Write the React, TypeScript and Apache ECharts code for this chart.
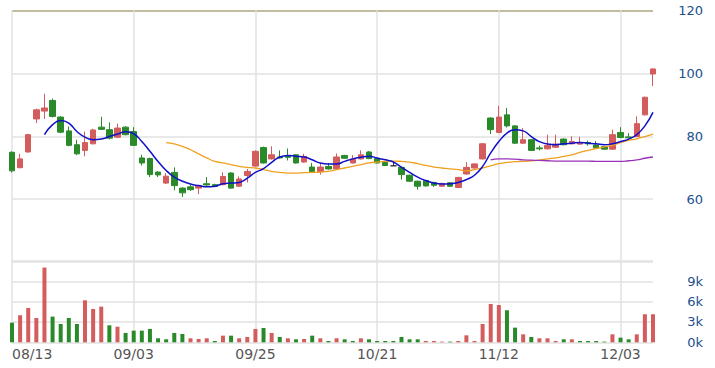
import React, { useEffect, useRef } from "react";
import * as echarts from "echarts";

const dates = [
  "08/13","08/14","08/15","08/16","08/19","08/20","08/21","08/22","08/23","08/26","08/27","08/28","08/29","08/30","09/02",
  "09/03","09/04","09/05","09/06","09/09","09/10","09/11","09/12","09/13","09/17","09/18","09/19","09/20","09/23","09/24",
  "09/25","09/26","09/27","09/30","10/02","10/04","10/07","10/08","10/10","10/11","10/14","10/15","10/16","10/17","10/18",
  "10/21","10/22","10/23","10/24","10/25","10/28","10/29","10/30","10/31","11/04","11/05","11/06","11/07","11/08","11/11",
  "11/12","11/13","11/14","11/15","11/18","11/19","11/20","11/21","11/22","11/25","11/26","11/27","11/28","11/29","12/02",
  "12/03","12/04","12/05","12/06","12/09",
];

// [open, close, low, high]
const ohlc: number[][] = [
  [74.9, 69.0, 68.5, 75.2],
  [70.0, 72.8, 69.8, 74.4],
  [75.0, 80.5, 74.8, 80.8],
  [85.5, 88.4, 84.2, 88.8],
  [88.0, 89.0, 85.5, 93.5],
  [91.4, 86.3, 86.0, 92.0],
  [86.1, 81.3, 81.0, 86.4],
  [81.7, 77.1, 76.8, 83.1],
  [77.3, 74.4, 74.0, 78.9],
  [75.5, 78.0, 73.6, 81.5],
  [77.6, 82.0, 77.4, 82.4],
  [82.9, 82.2, 82.0, 86.2],
  [82.1, 79.4, 79.0, 84.4],
  [79.7, 82.6, 79.5, 84.0],
  [82.9, 80.5, 80.3, 83.2],
  [81.5, 77.1, 76.9, 82.9],
  [73.1, 71.5, 70.7, 74.1],
  [72.9, 67.8, 67.0, 73.2],
  [68.6, 67.7, 67.0, 68.9],
  [65.1, 67.3, 64.8, 68.3],
  [68.5, 64.3, 62.8, 70.1],
  [63.5, 62.0, 60.7, 63.8],
  [63.9, 63.0, 62.6, 64.5],
  [63.5, 64.3, 61.6, 64.5],
  [64.9, 64.5, 64.2, 67.0],
  [64.6, 64.0, 63.8, 64.9],
  [64.6, 67.2, 64.4, 68.5],
  [68.3, 63.5, 63.3, 68.6],
  [64.1, 66.4, 63.9, 67.2],
  [67.5, 68.8, 65.3, 69.6],
  [70.5, 75.2, 70.3, 75.5],
  [76.4, 71.5, 71.3, 76.7],
  [72.8, 74.1, 72.6, 76.8],
  [73.4, 73.1, 72.9, 75.5],
  [73.6, 73.3, 72.3, 76.1],
  [74.1, 71.5, 71.3, 74.3],
  [71.8, 73.6, 71.6, 74.4],
  [70.2, 68.8, 68.6, 71.5],
  [68.8, 70.2, 67.8, 71.5],
  [70.4, 69.6, 69.4, 71.5],
  [69.6, 73.4, 69.4, 74.5],
  [73.9, 73.0, 72.8, 74.1],
  [71.5, 72.8, 71.3, 74.0],
  [72.8, 74.1, 72.6, 75.5],
  [75.0, 72.9, 72.7, 75.3],
  [72.9, 71.5, 71.3, 73.1],
  [71.7, 70.7, 70.5, 71.9],
  [70.6, 70.6, 70.6, 71.8],
  [70.1, 67.8, 66.2, 70.3],
  [67.6, 65.7, 65.5, 67.8],
  [65.7, 64.1, 63.0, 65.9],
  [65.9, 64.2, 64.0, 66.1],
  [65.3, 64.4, 63.9, 65.5],
  [64.1, 65.0, 63.9, 65.2],
  [65.2, 64.1, 63.9, 65.4],
  [63.7, 66.9, 63.5, 67.1],
  [68.0, 70.1, 67.8, 71.8],
  [69.9, 71.2, 69.7, 71.4],
  [72.8, 77.6, 72.6, 77.8],
  [85.8, 82.1, 80.7, 86.0],
  [81.2, 86.1, 81.0, 89.7],
  [86.8, 83.3, 82.8, 89.0],
  [83.3, 77.8, 77.6, 83.5],
  [77.8, 78.9, 77.6, 82.6],
  [78.9, 75.5, 75.3, 79.1],
  [76.3, 76.0, 75.5, 77.0],
  [76.0, 77.1, 75.8, 80.5],
  [76.5, 77.5, 76.3, 80.5],
  [79.1, 77.3, 77.1, 79.3],
  [77.6, 78.3, 77.4, 80.0],
  [77.5, 78.0, 77.3, 79.8],
  [78.0, 77.6, 77.0, 78.6],
  [77.2, 76.3, 76.1, 78.5],
  [76.7, 75.9, 75.7, 76.9],
  [75.9, 80.5, 75.7, 82.1],
  [81.2, 79.6, 79.4, 82.9],
  [79.8, 79.5, 79.3, 81.0],
  [79.9, 84.0, 79.7, 86.3],
  [86.8, 92.4, 86.6, 92.6],
  [99.8, 101.4, 96.0, 101.6],
];

const volumes = [
  2900, 3990, 5070, 3590, 11030, 3790, 2700, 3590, 2700, 6200,
  4920, 5260, 2510, 2300, 1380, 1720, 1720, 1970, 590, 440,
  1380, 1230, 590, 490, 590, 190, 980, 980, 590, 790,
  1970, 2110, 1380, 790, 590, 440, 490, 980, 590, 190,
  590, 440, 190, 590, 440, 190, 190, 190, 790, 440,
  440, 190, 190, 100, 100, 190, 1030, 190, 2700, 5660,
  5510, 4730, 2160, 1180, 790, 590, 590, 190, 440, 440,
  190, 190, 190, 100, 1180, 690, 440, 1180, 4140, 4140,
];

// moving averages (first value index noted)
const ma5Start = 4;
const ma5 = [
  80.5, 83.7, 85.0, 84.2, 81.5, 79.7, 78.9, 79.1, 79.9, 80.7,
  81.4, 80.8, 78.3, 75.2, 72.0, 69.1, 67.0, 65.7, 64.8, 64.3,
  63.9, 64.1, 64.9, 65.1, 65.3, 66.7, 68.5, 69.7, 71.7, 73.4,
  73.9, 73.6, 73.4, 72.5, 71.5, 71.2, 71.2, 72.0, 72.8, 73.3,
  73.6, 73.1, 72.5, 71.8, 70.1, 68.5, 67.0, 65.9, 65.1, 64.8,
  64.9, 65.3, 66.2, 67.6, 70.4, 74.7, 78.3, 81.0, 82.1, 81.7,
  79.9, 78.3, 77.5, 77.3, 77.6, 77.8, 78.0, 77.8, 77.6, 77.3,
  77.6, 78.3, 79.1, 80.5, 83.3, 87.6,
];
const ma20Start = 19;
const ma20 = [
  78.0, 77.6, 76.8, 75.7, 74.4, 73.1, 72.0, 71.5, 71.0, 70.4,
  70.1, 69.9, 69.4, 68.8, 68.5, 68.3, 68.3, 68.4, 68.5, 68.6,
  68.8, 69.4, 69.9, 70.4, 71.0, 71.5, 71.8, 72.0, 72.1, 72.0,
  71.8, 71.3, 70.7, 70.2, 69.9, 69.6, 69.4, 69.0, 69.4, 69.9,
  70.6, 71.3, 71.7, 71.9, 72.0, 72.2, 72.4, 72.8, 73.1, 73.6,
  74.1, 74.9, 75.5, 76.1, 76.6, 77.1, 78.0, 78.7, 79.2, 79.9,
  80.7,
];
const ma60Start = 59;
const ma60 = [
  72.5, 72.8, 72.8, 72.7, 72.5, 72.4, 72.3, 72.2, 72.1, 72.1,
  72.1, 72.1, 72.1, 72.0, 72.0, 72.0, 72.0, 72.2, 72.5, 73.0,
  73.4,
];

const priceTicks = [40, 60, 80, 100, 120];
const volumeTicks = [0, 3000, 6000, 9000, 12000];

const RED = "#d35c5c";
const GREEN = "#2a8a2a";

function pad(start: number, arr: number[]) {
  const out: (number | string)[] = [];
  for (let i = 0; i < start; i++) out.push("-");
  return out.concat(arr);
}

export default function App() {
  const ref = useRef<HTMLDivElement>(null);
  useEffect(() => {
    if (!ref.current) return;
    const chart = echarts.init(ref.current, undefined, { renderer: "svg" });
    const closes = ohlc.map((d) => d[1]);
    const volData = volumes.map((v, i) => {
      const up = i === 0 ? ohlc[0][1] >= ohlc[0][0] : closes[i] > closes[i - 1];
      return { value: v, itemStyle: { color: up ? RED : GREEN } };
    });
    const font = "DejaVu Sans";
    chart.setOption({
      animation: false,
      backgroundColor: "#fff",
      grid: [
        { left: 12, right: 62, top: 10.5, height: 251.5 },
        { left: 12, right: 62, top: 261, height: 81.3 },
      ],
      xAxis: [
        {
          type: "category",
          gridIndex: 0,
          data: dates,
          boundaryGap: false,
          axisLine: { show: false },
          axisTick: { show: false },
          axisLabel: { show: false },
          splitLine: { show: true, interval: 14, lineStyle: { color: "#e2e2e2", width: 1.5 } },
        },
        {
          type: "category",
          gridIndex: 1,
          data: dates,
          boundaryGap: false,
          axisLine: { show: false },
          axisTick: { show: false },
          axisLabel: {
            interval: 14,
            color: "#555",
            fontFamily: font,
            fontSize: 14,
            margin: 5,
            alignMinLabel: "left",
          },
          splitLine: { show: true, interval: 14, lineStyle: { color: "#e2e2e2", width: 1.5 } },
        },
      ],
      yAxis: [
        {
          type: "value",
          gridIndex: 0,
          position: "right",
          min: priceTicks[0],
          max: priceTicks[priceTicks.length - 1],
          interval: 20,
          axisLine: { show: false },
          axisTick: { show: false },
          axisLabel: {
            color: "#23508c",
            fontFamily: font,
            fontSize: 13,
            align: "right",
            margin: 50,
            formatter: (v: number) => (v === priceTicks[0] ? "" : String(v)),
          },
          splitLine: {
            lineStyle: { color: ["#e2e2e2", "#e2e2e2", "#e2e2e2", "#e2e2e2", "#aca67c"], width: 1.5 },
          },
        },
        {
          type: "value",
          gridIndex: 1,
          position: "right",
          min: volumeTicks[0],
          max: volumeTicks[volumeTicks.length - 1],
          interval: 3000,
          axisLine: { show: false },
          axisTick: { show: false },
          axisLabel: {
            color: "#23508c",
            fontFamily: font,
            fontSize: 13,
            align: "right",
            margin: 50,
            formatter: (v: number) => (v === volumeTicks[volumeTicks.length - 1] ? "" : v / 1000 + "k"),
          },
          splitLine: { lineStyle: { color: "#e2e2e2", width: 1.5 } },
        },
      ],
      series: [
        {
          type: "candlestick",
          xAxisIndex: 0,
          yAxisIndex: 0,
          data: ohlc,
          barWidth: 6,
          clip: false,
          itemStyle: {
            color: RED,
            color0: GREEN,
            borderColor: RED,
            borderColor0: GREEN,
            borderColorDoji: "#333",
            borderWidth: 1,
          },
        },
        {
          type: "line",
          xAxisIndex: 0,
          yAxisIndex: 0,
          data: pad(ma20Start, ma20),
          smooth: true,
          symbol: "none",
          lineStyle: { color: "#f0a020", width: 1.3 },
        },
        {
          type: "line",
          xAxisIndex: 0,
          yAxisIndex: 0,
          data: pad(ma60Start, ma60),
          smooth: true,
          symbol: "none",
          lineStyle: { color: "#9932b8", width: 1.3 },
        },
        {
          type: "line",
          xAxisIndex: 0,
          yAxisIndex: 0,
          data: pad(ma5Start, ma5),
          smooth: true,
          symbol: "none",
          lineStyle: { color: "#1010c8", width: 1.5 },
        },
        {
          type: "bar",
          xAxisIndex: 1,
          yAxisIndex: 1,
          data: volData,
          barWidth: 4,
        },
      ],
    });
    return () => chart.dispose();
  }, []);
  return <div ref={ref} style={{ width: 715, height: 368, position: "absolute", left: 0, top: 0 }} />;
}
